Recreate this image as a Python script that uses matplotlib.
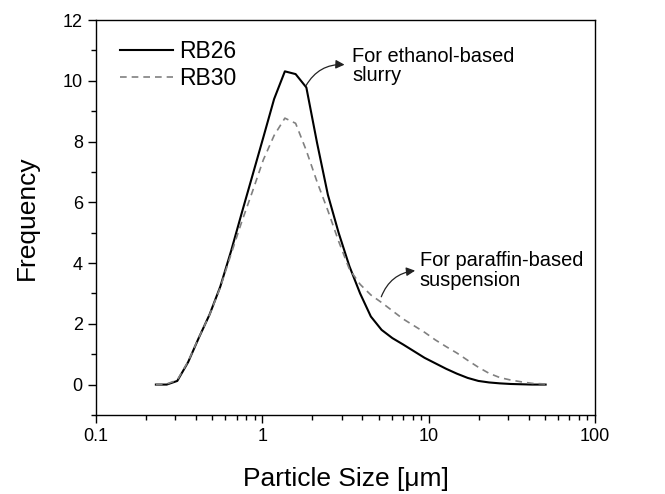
import matplotlib
matplotlib.use("Agg")
import matplotlib.pyplot as plt
from matplotlib.ticker import LogLocator, FixedLocator, MultipleLocator

plt.rcParams['font.family'] = ['Liberation Sans', 'DejaVu Sans']

# particle size bins [um]
size = [0.229, 0.266, 0.308, 0.358, 0.415, 0.482, 0.559, 0.649, 0.753, 0.874,
        1.014, 1.177, 1.366, 1.585, 1.839, 2.134, 2.477, 2.874, 3.336, 3.871,
        4.492, 5.213, 6.050, 7.020, 8.147, 9.454, 10.97, 12.73, 14.77, 17.15,
        19.90, 23.09, 26.80, 31.10, 36.09, 41.88, 50.5]

rb26 = [0.0, 0.0, 0.12, 0.74, 1.54, 2.31, 3.23, 4.40, 5.66, 6.90,
        8.14, 9.40, 10.31, 10.22, 9.78, 7.95, 6.25, 5.00, 3.90, 3.00,
        2.24, 1.80, 1.53, 1.32, 1.10, 0.88, 0.70, 0.52, 0.36, 0.22,
        0.12, 0.07, 0.04, 0.02, 0.01, 0.0, 0.0]

rb30 = [0.0, 0.02, 0.15, 0.76, 1.55, 2.30, 3.20, 4.30, 5.37, 6.37,
        7.40, 8.20, 8.77, 8.60, 7.70, 6.67, 5.73, 4.72, 3.80, 3.30,
        2.95, 2.70, 2.43, 2.16, 1.94, 1.72, 1.47, 1.25, 1.04, 0.80,
        0.57, 0.37, 0.23, 0.15, 0.09, 0.04, 0.02]

fig = plt.figure(figsize=(6.65, 4.94), dpi=100)
ax = fig.add_axes([0.1444, 0.16, 0.7503, 0.7995])

ax.plot(size, rb26, color='black', lw=1.5, label='RB26')
ax.plot(size, rb30, color='#808080', lw=1.2, dashes=(4, 3), label='RB30')

ax.set_xscale('log')
ax.set_xlim(0.1, 100)
ax.set_ylim(-1, 12)
ax.xaxis.set_major_locator(FixedLocator([0.1, 1, 10, 100]))
ax.xaxis.set_minor_locator(LogLocator(base=10, subs=range(2, 10)))
ax.set_xticklabels(['0.1', '1', '10', '100'])
ax.yaxis.set_major_locator(MultipleLocator(2))
ax.yaxis.set_minor_locator(MultipleLocator(1))
ax.tick_params(which='both', direction='out', top=False, right=False,
               labelsize=13, width=1)
ax.tick_params(which='major', length=6)
ax.tick_params(which='minor', length=3.5)
for s in ax.spines.values():
    s.set_linewidth(1)

ax.set_xlabel('Particle Size [\u03bcm]', fontsize=19, labelpad=16)
ax.set_ylabel('Frequency', fontsize=19, labelpad=17)

ax.legend(loc='upper left', bbox_to_anchor=(0.048, 0.95), frameon=False,
          fontsize=16.5, handlelength=2.3, handletextpad=0.3,
          labelspacing=0.18, borderpad=0, borderaxespad=0)

arr = dict(arrowstyle='-|>', color='#222222', lw=0.9,
           connectionstyle='arc3,rad=-0.3', mutation_scale=13,
           shrinkA=0, shrinkB=0)
ax.annotate('', xy=(3.12, 10.53), xytext=(1.83, 9.84), arrowprops=arr)
ax.text(3.48, 10.49, 'For ethanol-based\nslurry', fontsize=14.4,
        ha='left', va='center', linespacing=1.05)
ax.annotate('', xy=(8.29, 3.75), xytext=(5.19, 2.89), arrowprops=arr)
ax.text(8.83, 3.75, 'For paraffin-based\nsuspension', fontsize=14.4,
        ha='left', va='center', linespacing=1.05)

fig.savefig('out.png', dpi=100)
